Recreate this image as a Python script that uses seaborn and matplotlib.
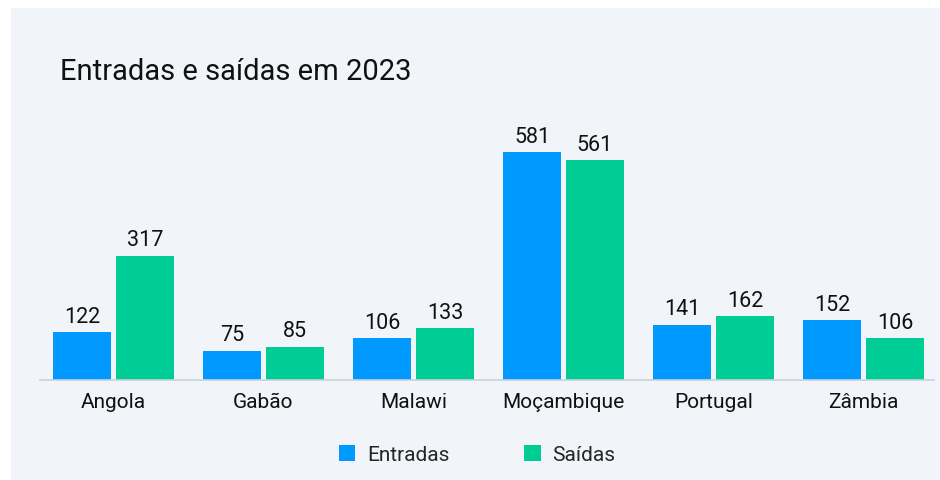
import pandas as pd
import matplotlib.pyplot as plt
import matplotlib.patches as mpatches
import seaborn as sns

paises = ['Angola', 'Gabão', 'Malawi', 'Moçambique', 'Portugal', 'Zâmbia']
entradas = [122, 75, 106, 581, 141, 152]
saidas = [317, 85, 133, 561, 162, 106]
series = ['Entradas', 'Saídas']
cores = ['#0099FF', '#00CC96']

df = pd.DataFrame({
    'pais': paises * 2,
    'valor': entradas + saidas,
    'tipo': ['Entradas'] * len(paises) + ['Saídas'] * len(paises),
})

sns.set_theme(style='white')
plt.rcParams['font.family'] = ['Roboto', 'DejaVu Sans']

fig = plt.figure(figsize=(9.4, 4.8), dpi=100, facecolor='white')
# painel de fundo cinza claro
fig.patches.append(mpatches.Rectangle((11 / 940, 0), 1, 1 - 8 / 480, transform=fig.transFigure,
                                      facecolor='#F1F5F9', edgecolor='none', zorder=-10))

ax = fig.add_axes([40 / 940, 1 - 380 / 480, 894 / 940, 0.54])
ax.set_facecolor('none')
sns.barplot(data=df, x='pais', y='valor', hue='tipo', palette=cores, width=0.84, gap=0.08,
            ax=ax, saturation=1, legend=False, linewidth=0)

for cont in ax.containers:
    ax.bar_label(cont, padding=3, fontsize=15.5, color='#111111')

ax.set_xlim(-0.49, 5.47)
ax.set_ylim(0, 660)
ax.set_yticks([])
ax.set_xlabel('')
ax.set_ylabel('')
for s in ['top', 'right', 'left']:
    ax.spines[s].set_visible(False)
ax.spines['bottom'].set_color('#C9D1DA')
ax.spines['bottom'].set_linewidth(1.2)
ax.tick_params(axis='x', length=0, pad=9, labelsize=15, labelcolor='#111111')

fig.text(60 / 940, 1 - 80 / 480, 'Entradas e saídas em 2023', fontsize=21, color='#111111',
         ha='left', va='baseline')

handles = [mpatches.Patch(facecolor=c, edgecolor='none', label=s) for c, s in zip(cores, series)]
fig.legend(handles=handles, loc='center', bbox_to_anchor=(477 / 940, 1 - 455 / 480), ncol=2,
           frameon=False, fontsize=15, handlelength=0.8, handleheight=0.8,
           handletextpad=0.55, columnspacing=3.6)

fig.savefig('out.png', dpi=100, facecolor='white')
